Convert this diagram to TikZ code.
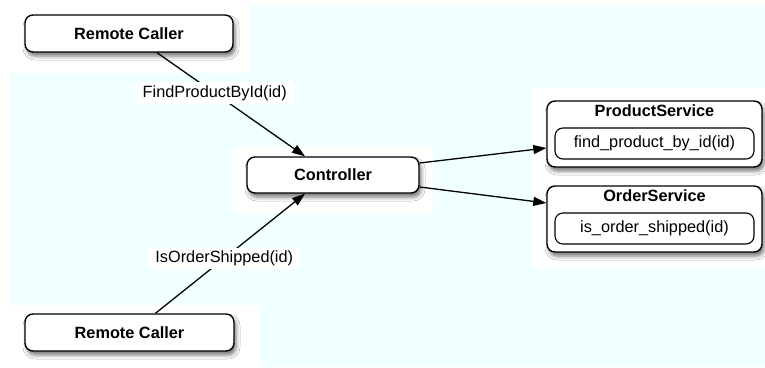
\documentclass[tikz,border=0pt]{standalone}
\usepackage{fontspec}
\setmainfont{Liberation Sans}
\usetikzlibrary{arrows.meta,shadows.blur}
\definecolor{bgcyan}{RGB}{240,255,255}
\tikzset{
  box/.style={draw=black, line width=1.4pt, rounded corners=8pt, fill=white,
    blur shadow={shadow xshift=2pt, shadow yshift=-4pt, shadow blur radius=4pt, shadow opacity=55},
    font=\bfseries, inner sep=0pt},
  innerbox/.style={draw=black, line width=1.1pt, rounded corners=8pt, fill=white, inner sep=0pt},
  title/.style={font=\bfseries, inner sep=0pt},
  conn/.style={line width=1.3pt, -{Triangle[length=13pt,width=9pt]}},
  lbl/.style={fill=white, inner xsep=7pt, inner ysep=3pt, text height=12pt, text depth=3.5pt}
}
\begin{document}
\begin{tikzpicture}[x=1pt,y=-1pt, every node/.append style={font=\fontsize{16.3}{19}\selectfont}]
\useasboundingbox (0,0) rectangle (765,367);
% backgrounds
\fill[white] (0,0) rectangle (765,367);
\fill[bgcyan] (10,5) rectangle (765,367);
\fill[white] (0,0) rectangle (250,73);
\fill[white] (0,305) rectangle (260,367);
\fill[white] (233,147) rectangle (433,213);
\fill[white] (532,88) rectangle (765,268);
% nodes
\node[box, minimum width=208pt, minimum height=37pt] (rc1) at (129,33.5) {\fontsize{16.3}{19}\selectfont\bfseries Remote Caller};
\node[box, minimum width=209pt, minimum height=37pt] (rc2) at (129.5,332.5) {\fontsize{16.3}{19}\selectfont\bfseries Remote Caller};
\node[box, minimum width=172pt, minimum height=36pt] (ctrl) at (333,175) {\fontsize{16.3}{19}\selectfont\bfseries Controller};
\node[box, minimum width=215pt, minimum height=66pt] (ps) at (654.5,134) {};
\node[title] (pst) at (654.5,111) {\fontsize{16.3}{19}\selectfont\bfseries ProductService};
\node[innerbox, minimum width=199pt, minimum height=31pt] (psm) at (654.5,143.5) {find\_product\_by\_id(id)};
\node[box, minimum width=215pt, minimum height=66pt] (os) at (654.5,219) {};
\node[title] (ost) at (654.5,196) {\fontsize{16.3}{19}\selectfont\bfseries OrderService};
\node[innerbox, minimum width=199pt, minimum height=31pt] (osm) at (654.5,228.5) {is\_order\_shipped(id)};
% connectors
\draw[conn] ([xshift=28pt]rc1.south) -- node[lbl, pos=0.39] (l1) {FindProductById(id)} ([xshift=-28pt]ctrl.north);
\draw[conn] ([xshift=26pt]rc2.north) -- node[lbl, pos=0.46] (l2) {IsOrderShipped(id)} ([xshift=-28pt]ctrl.south);
\draw[conn] ([yshift=12pt]ctrl.east) -- ([yshift=-14pt]ps.west);
\draw[conn] ([yshift=-12pt]ctrl.east) -- ([yshift=16pt]os.west);
\end{tikzpicture}
\end{document}
